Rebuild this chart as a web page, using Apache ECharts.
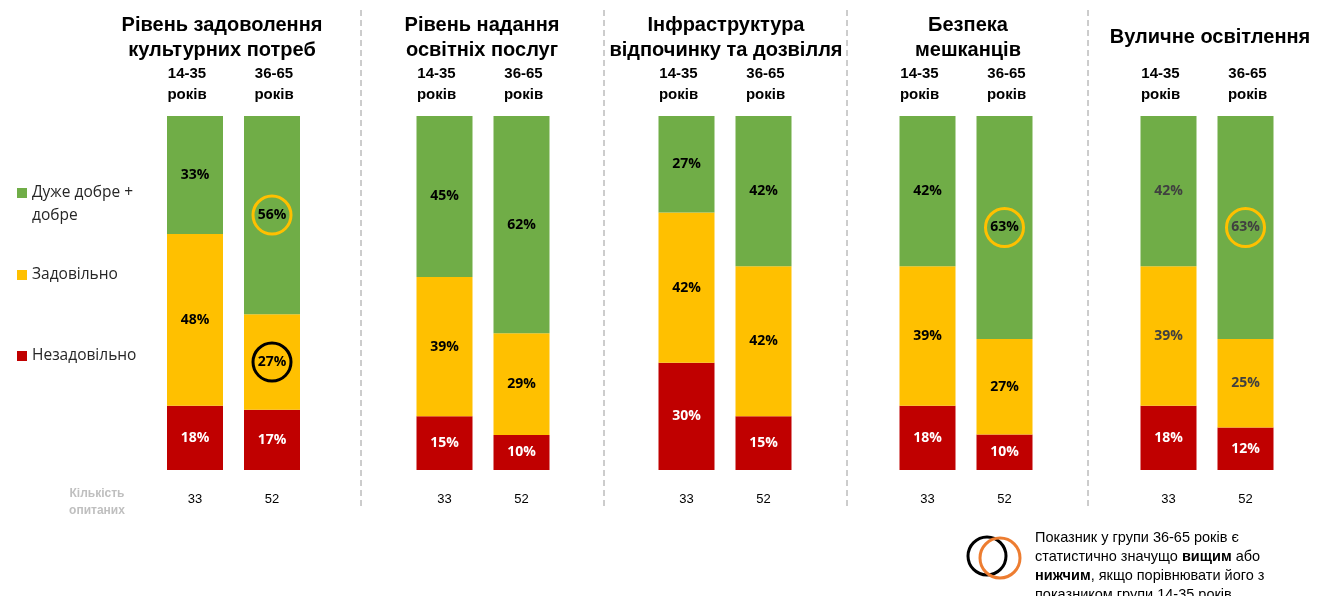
<!DOCTYPE html>
<html>
<head>
<meta charset="utf-8">
<script src="https://cdn.jsdelivr.net/npm/echarts@6/dist/echarts.min.js"></script>
<style>
  html, body { margin: 0; background: #fff; }
  #main { width: 1318px; height: 596px; }
</style>
</head>
<body>
<div id="main"></div>
<script>
// дані з діаграми
var groups = ['Рівень задоволення\nкультурних потреб', 'Рівень надання\nосвітніх послуг', 'Інфраструктура\nвідпочинку та дозвілля', 'Безпека\nмешканців', 'Вуличне освітлення']
var ages = ['14-35\nроків', '36-65\nроків']
var good = [[33, 56], [45, 62], [27, 42], [42, 63], [42, 63]]
var fair = [[48, 27], [39, 29], [42, 42], [39, 27], [39, 25]]
var poor = [[18, 17], [15, 10], [30, 15], [18, 10], [18, 12]]
var counts = [[33, 52], [33, 52], [33, 52], [33, 52], [33, 52]]
// 1 = значущо вищий, -1 = значущо нижчий
var goodSig = [[0, 1], [0, 0], [0, 0], [0, 1], [0, 1]]
var fairSig = [[0, -1], [0, 0], [0, 0], [0, 0], [0, 0]]

var gridLeft = [156.5, 406, 648, 889, 1130]
var titleX = [222, 482, 726, 968, 1210]
var sepX = [361, 604, 847, 1088]
var darkText = ['#000', '#000', '#000', '#000', '#404040']

var levels = [
  { name: 'Незадовільно', color: '#C00000', values: poor, sig: null },
  { name: 'Задовільно', color: '#FFC000', values: fair, sig: fairSig },
  { name: 'Дуже добре + добре', color: '#70AD47', values: good, sig: goodSig }
]

var myChart = echarts.init(document.getElementById('main'))

var grid = [], xAxis = [], yAxis = [], series = []

groups.forEach(function (gName, g) {
  grid.push({ left: gridLeft[g], width: 154, top: 116, height: 354 })
  // підписи віку зверху
  xAxis.push({
    type: 'category', gridIndex: g, position: 'top', data: ages,
    axisLine: { show: false }, axisTick: { show: false },
    axisLabel: {
      margin: 11,
      formatter: function (v, i) {
        var t = i === 0 ? 'l' : 'r'
        return v.split('\n').map(function (s) { return '{' + t + '|' + s + '}' }).join('\n')
      },
      rich: {
        l: { fontFamily: 'Liberation Sans', fontWeight: 'bold', fontSize: 15, lineHeight: 21, color: '#000', padding: [0, 16, 0, 0] },
        r: { fontFamily: 'Liberation Sans', fontWeight: 'bold', fontSize: 15, lineHeight: 21, color: '#000', padding: [0, 0, 0, 4] }
      }
    }
  })
  // кількість опитаних знизу
  xAxis.push({
    type: 'category', gridIndex: g, position: 'bottom', data: counts[g].map(String),
    axisLine: { show: false }, axisTick: { show: false },
    axisLabel: { margin: 23, fontFamily: 'Liberation Sans', fontSize: 13, color: '#000' }
  })
  yAxis.push({ type: 'value', gridIndex: g, min: 0, max: 100, show: false })

  levels.forEach(function (lv) {
    series.push({
      type: 'bar',
      name: lv.name,
      xAxisIndex: g * 2,
      yAxisIndex: g,
      stack: 'g' + g,
      barWidth: 56,
      itemStyle: { color: lv.color },
      label: {
        show: true,
        position: 'inside',
        fontFamily: 'Open Sans',
        fontWeight: 'bold',
        fontSize: 14,
        color: lv.color === '#C00000' ? '#fff' : darkText[g],
        formatter: function (p) { return lv.values[g][p.dataIndex] + '%' }
      },
      data: ages.map(function (a, i) {
        var total = good[g][i] + fair[g][i] + poor[g][i]
        var item = { value: lv.values[g][i] / total * 100 }
        var s = lv.sig ? lv.sig[g][i] : 0
        if (s) {
          item.label = {
            borderColor: s > 0 ? '#FFC000' : '#000',
            borderWidth: 3,
            borderRadius: 19,
            width: 38,
            height: 38,
            lineHeight: 38,
            align: 'center'
          }
        }
        return item
      })
    })
  })
})

var legendText = { fontFamily: 'Open Sans', fontSize: 15.5, color: '#262626', lineHeight: 23 }
var legend = [
  { name: 'Дуже добре + добре', top: 158.5, text: '\nДуже добре +\nдобре' },
  { name: 'Задовільно', top: 263.5, text: 'Задовільно' },
  { name: 'Незадовільно', top: 344.5, text: 'Незадовільно' }
].map(function (l) {
  return {
    data: [l.name], left: 17, top: l.top, padding: 0,
    icon: 'rect', itemWidth: 10, itemHeight: 10,
    selectedMode: false, textStyle: legendText,
    formatter: function () { return l.text }
  }
})

var graphic = []
groups.forEach(function (gName, g) {
  graphic.push({
    type: 'text', x: titleX[g], y: 37.5,
    style: { text: gName, fill: '#000', font: 'bold 20px "Liberation Sans"', lineHeight: 25, align: 'center', verticalAlign: 'middle' }
  })
})
sepX.forEach(function (x) {
  graphic.push({
    type: 'line', shape: { x1: x, y1: 10, x2: x, y2: 508 },
    style: { stroke: '#9A9A9A', lineWidth: 1, lineDash: [6, 4] }
  })
})
graphic.push({
  type: 'text', x: 97, y: 502,
  style: { text: 'Кількість\nопитаних', fill: '#BFBFBF', font: 'bold 12px "Liberation Sans"', lineHeight: 17, align: 'center', verticalAlign: 'middle' }
})
// позначення значущості
graphic.push({ type: 'circle', shape: { cx: 987, cy: 556, r: 19 }, style: { fill: 'none', stroke: '#000', lineWidth: 3 } })
graphic.push({ type: 'circle', shape: { cx: 1000, cy: 558, r: 20 }, style: { fill: 'none', stroke: '#ED7D31', lineWidth: 3 } })
graphic.push({
  type: 'text', x: 1035, y: 528,
  style: {
    text: '{n|Показник у групи 36-65 років є}\n{n|статистично значущо }{o|вищим}{n| або}\n{b|нижчим}{n|, якщо порівнювати його з}\n{n|показником групи 14-35 років}',
    rich: {
      n: { fontFamily: 'Liberation Sans', fontSize: 14.5, color: '#222', lineHeight: 19 },
      o: { fontFamily: 'Liberation Sans', fontSize: 14.5, fontWeight: 'bold', color: '#ED7D31', lineHeight: 19 },
      b: { fontFamily: 'Liberation Sans', fontSize: 14.5, fontWeight: 'bold', color: '#000', lineHeight: 19 }
    }
  }
})

myChart.setOption({
  animation: false,
  grid: grid,
  xAxis: xAxis,
  yAxis: yAxis,
  legend: legend,
  graphic: graphic,
  series: series
})
</script>
</body>
</html>
